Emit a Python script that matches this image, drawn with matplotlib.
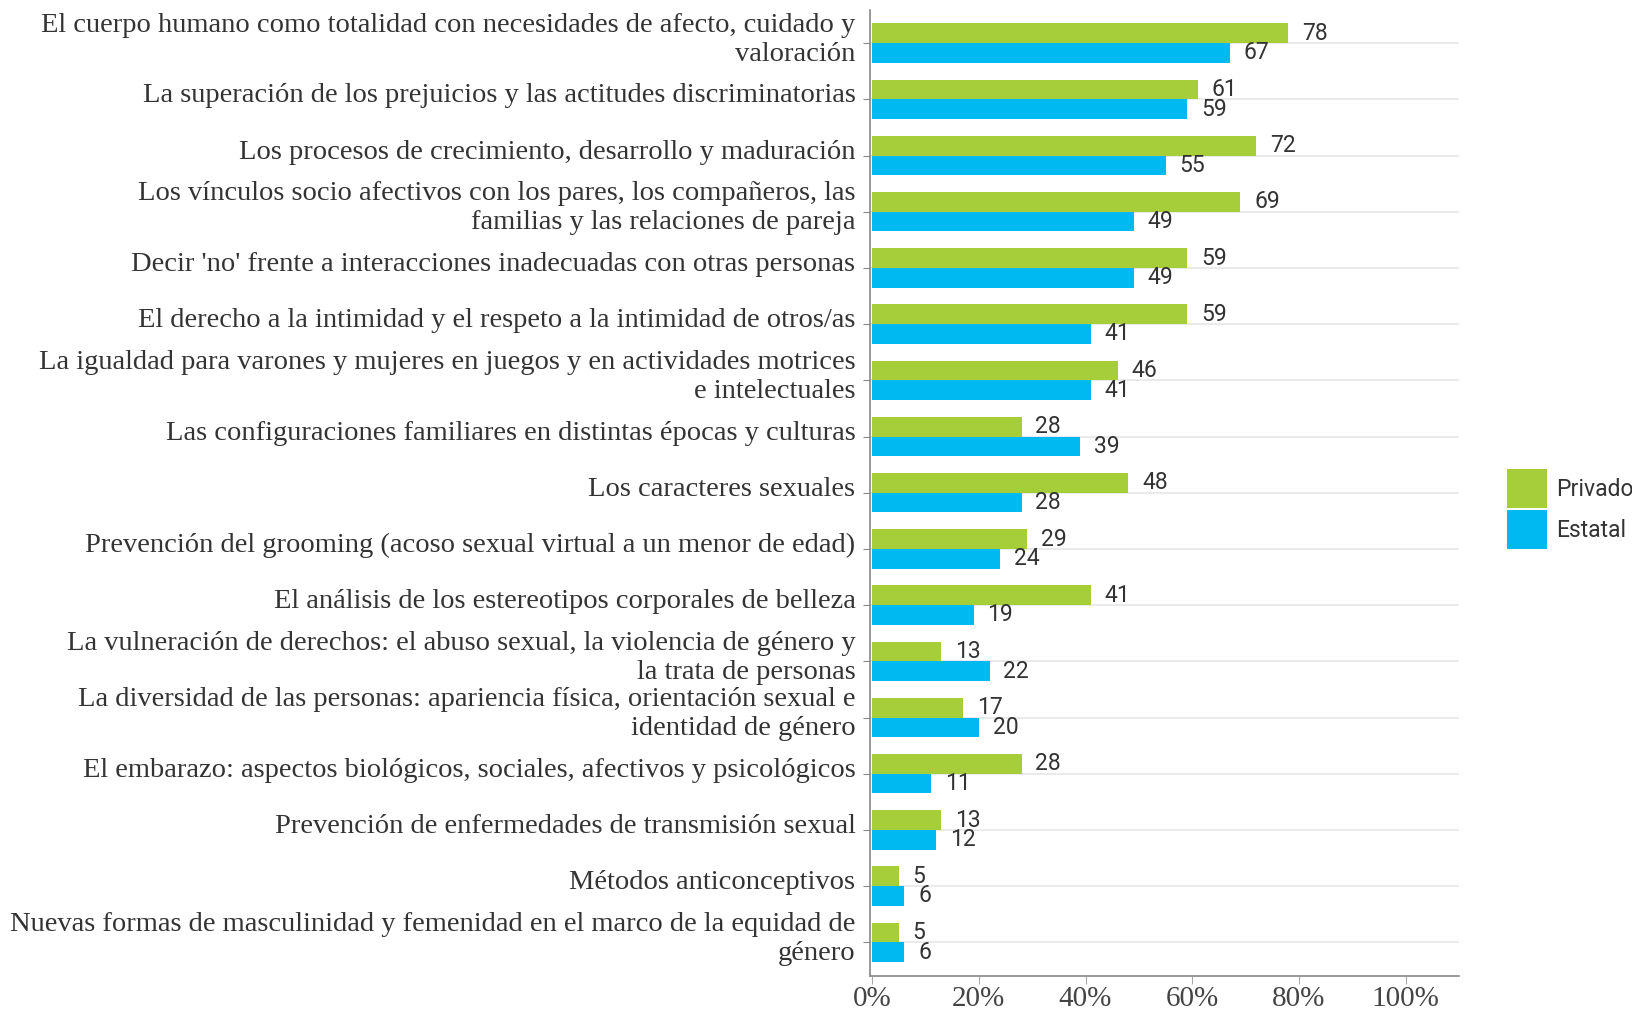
import matplotlib
matplotlib.use("Agg")
import matplotlib.pyplot as plt
from matplotlib.patches import Patch
import numpy as np

categories = [
    "El cuerpo humano como totalidad con necesidades de afecto, cuidado y\nvaloración",
    "La superación de los prejuicios y las actitudes discriminatorias",
    "Los procesos de crecimiento, desarrollo y maduración",
    "Los vínculos socio afectivos con los pares, los compañeros, las\nfamilias y las relaciones de pareja",
    "Decir 'no' frente a interacciones inadecuadas con otras personas",
    "El derecho a la intimidad y el respeto a la intimidad de otros/as",
    "La igualdad para varones y mujeres en juegos y en actividades motrices\ne intelectuales",
    "Las configuraciones familiares en distintas épocas y culturas",
    "Los caracteres sexuales",
    "Prevención del grooming (acoso sexual virtual a un menor de edad)",
    "El análisis de los estereotipos corporales de belleza",
    "La vulneración de derechos: el abuso sexual, la violencia de género y\nla trata de personas",
    "La diversidad de las personas: apariencia física, orientación sexual e\nidentidad de género",
    "El embarazo: aspectos biológicos, sociales, afectivos y psicológicos",
    "Prevención de enfermedades de transmisión sexual",
    "Métodos anticonceptivos",
    "Nuevas formas de masculinidad y femenidad en el marco de la equidad de\ngénero",
]
privado = [78, 61, 72, 69, 59, 59, 46, 28, 48, 29, 41, 13, 17, 28, 13, 5, 5]
estatal = [67, 59, 55, 49, 49, 41, 41, 39, 28, 24, 19, 22, 20, 11, 12, 6, 6]
series_names = ["Privado", "Estatal"]
xticks = [0, 20, 40, 60, 80, 100]
xticklabels = ["0%", "20%", "40%", "60%", "80%", "100%"]

GREEN = "#A6CE39"
BLUE = "#00B9F1"
TEXT = "#333333"
SERIF = ["Liberation Serif", "DejaVu Serif"]
NARROW = ["Liberation Sans Narrow", "Roboto", "DejaVu Sans"]

fig = plt.figure(figsize=(16.32, 10.10), dpi=100)
ax = fig.add_axes([870 / 1632, 1 - 976 / 1010, (1459 - 870) / 1632, (976 - 10) / 1010])

y = np.arange(len(categories))
h = 0.35
ax.barh(y - h / 2, privado, height=h, color=GREEN, zorder=2)
ax.barh(y + h / 2, estatal, height=h, color=BLUE, zorder=2)

for yi, v in zip(y, privado):
    ax.annotate(str(v), (v, yi - h / 2), xytext=(10, 0), textcoords="offset points",
                va="center", ha="left", fontsize=16.5, color=TEXT, family=NARROW)
for yi, v in zip(y, estatal):
    ax.annotate(str(v), (v, yi + h / 2), xytext=(10, 0), textcoords="offset points",
                va="center", ha="left", fontsize=16.5, color=TEXT, family=NARROW)

ax.set_xlim(-0.4, 110)
ax.set_ylim(16.6, -0.59)
ax.set_yticks(y)
ax.set_yticklabels([""] * len(categories))
ytrans = ax.get_yaxis_transform()
for yi, cat in zip(y, categories):
    ax.annotate(cat, (0, yi), xycoords=ytrans, xytext=(-10.5, 2.5), textcoords="offset points",
                ha="right", va="center", multialignment="right", family=SERIF,
                fontsize=20.5, color=TEXT, linespacing=1.2, annotation_clip=False)
ax.set_xticks(xticks)
ax.set_xticklabels(xticklabels, family=SERIF, fontsize=21, color="#444444")

for yi in y:
    ax.axhline(yi, color="#e6e6e6", lw=1.2, zorder=1)

for s in ["top", "right"]:
    ax.spines[s].set_visible(False)
for s in ["left", "bottom"]:
    ax.spines[s].set_color("#888888")
    ax.spines[s].set_linewidth(1.2)
ax.tick_params(axis="y", length=5, color="#888888", pad=3)
ax.tick_params(axis="x", length=6, color="#aaaaaa", pad=1)

handles = [Patch(facecolor=GREEN), Patch(facecolor=BLUE)]
fig.legend(handles, series_names, loc="center left", bbox_to_anchor=(1507 / 1632, 1 - 509 / 1010),
           frameon=False, borderpad=0, borderaxespad=0, handlelength=1.75, handleheight=2.24,
           handletextpad=0.4, labelspacing=0.08, prop={"family": "Roboto", "size": 16.5},
           labelcolor=TEXT)

fig.savefig("out.png", dpi=100)
